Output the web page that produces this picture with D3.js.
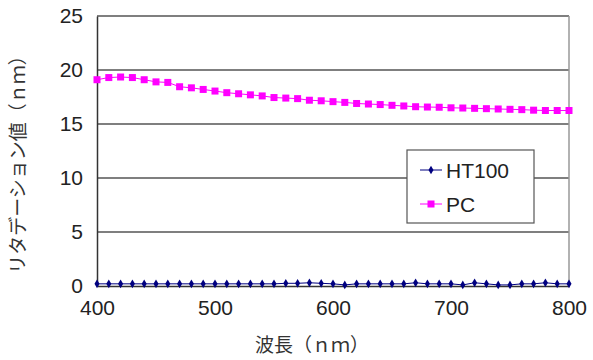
<!DOCTYPE html>
<html><head><meta charset="utf-8">
<script src="https://cdn.jsdelivr.net/npm/d3@7"></script>
<style>body{margin:0;background:#fff}svg{display:block}</style>
</head><body><svg id="c" width="593" height="360"></svg>
<script>
const wavelengths = d3.range(400, 801, 10);
const pcValues = [19.1,19.3,19.35,19.3,19.1,18.9,18.85,18.45,18.35,18.2,18.05,17.9,17.8,17.7,17.6,17.45,17.4,17.35,17.2,17.15,17.07,17.0,16.9,16.85,16.8,16.73,16.67,16.6,16.57,16.55,16.5,16.48,16.45,16.42,16.39,16.36,16.33,16.28,16.25,16.25,16.25];
const ht100Values = [0.2,0.2,0.2,0.2,0.2,0.2,0.2,0.2,0.2,0.2,0.2,0.2,0.2,0.2,0.2,0.2,0.25,0.25,0.3,0.25,0.2,0.1,0.2,0.2,0.2,0.2,0.2,0.3,0.2,0.2,0.2,0.1,0.3,0.2,0.1,0.1,0.2,0.2,0.3,0.2,0.2];
const seriesNames = ["HT100", "PC"];
const xTicks = [400, 500, 600, 700, 800];
const yTicks = [0, 5, 10, 15, 20, 25];

const svg = d3.select("#c");
const L = 97, R = 569, T = 16, B = 286;
const x = d3.scaleLinear().domain([400, 800]).range([L, R]);
const y = d3.scaleLinear().domain([0, 25]).range([B, T]);
const font = "'Liberation Sans', Arial, sans-serif";

// grid
svg.append("g").selectAll("line").data(yTicks.filter(d => d > 0)).join("line")
  .attr("x1", L).attr("x2", R).attr("y1", d => y(d)).attr("y2", d => y(d))
  .attr("stroke", "#555").attr("stroke-width", 1.5);
// right border
svg.append("line").attr("x1", R).attr("x2", R).attr("y1", T).attr("y2", B)
  .attr("stroke", "#999").attr("stroke-width", 1.5);

// axes
const yAxis = d3.axisLeft(y).tickValues(yTicks).tickSize(0).tickPadding(14).tickFormat(d3.format("d"));
const gy = svg.append("g").attr("transform", `translate(${L},0)`).call(yAxis);
gy.select(".domain").attr("stroke", "#333").attr("stroke-width", 1.5);
gy.selectAll("text").attr("font-family", font).attr("font-size", 21).attr("fill", "#222");

const xAxis = d3.axisBottom(x).tickValues(xTicks).tickSize(0).tickPadding(14).tickFormat(d3.format("d"));
const gx = svg.append("g").attr("transform", `translate(0,${B})`).call(xAxis);
gx.select(".domain").attr("stroke", "#333").attr("stroke-width", 1.5);
gx.selectAll("text").attr("font-family", font).attr("font-size", 21).attr("fill", "#222");

// series
const pcData = wavelengths.map((w, i) => [w, pcValues[i]]);
const htData = wavelengths.map((w, i) => [w, ht100Values[i]]);
const line = d3.line().x(d => x(d[0])).y(d => y(d[1]));

svg.append("path").datum(htData).attr("d", line).attr("fill", "none").attr("stroke", "#000080").attr("stroke-width", 1);
svg.append("g").selectAll("path").data(htData).join("path")
  .attr("d", d3.symbol(d3.symbolDiamond, 22)())
  .attr("transform", d => `translate(${x(d[0])},${y(d[1])})`).attr("fill", "#000080");

svg.append("path").datum(pcData).attr("d", line).attr("fill", "none").attr("stroke", "#ff00ff").attr("stroke-width", 1);
svg.append("g").selectAll("rect").data(pcData).join("rect")
  .attr("x", d => x(d[0]) - 3.5).attr("y", d => y(d[1]) - 3.5).attr("width", 7).attr("height", 7)
  .attr("fill", "#ff00ff");

// legend
const lg = svg.append("g");
lg.append("rect").attr("x", 407).attr("y", 150).attr("width", 127).attr("height", 73)
  .attr("fill", "#fff").attr("stroke", "#555").attr("stroke-width", 1.2);
const ly = [170, 204];
lg.append("line").attr("x1", 420).attr("x2", 442).attr("y1", ly[0]).attr("y2", ly[0]).attr("stroke", "#000080");
lg.append("path").attr("d", d3.symbol(d3.symbolDiamond, 22)()).attr("transform", `translate(431,${ly[0]})`).attr("fill", "#000080");
lg.append("line").attr("x1", 420).attr("x2", 442).attr("y1", ly[1]).attr("y2", ly[1]).attr("stroke", "#ff00ff");
lg.append("rect").attr("x", 427.5).attr("y", ly[1] - 3.5).attr("width", 7).attr("height", 7).attr("fill", "#ff00ff");
lg.selectAll("text").data(seriesNames).join("text")
  .attr("x", 446).attr("y", (d, i) => ly[i]).attr("dy", "0.36em")
  .attr("font-family", font).attr("font-size", 21).attr("fill", "#222").text(d => d);

// axis titles
svg.append("text").attr("x", 312).attr("y", 352).attr("text-anchor", "middle")
  .attr("font-family", "'Noto Sans CJK JP', sans-serif").attr("font-size", 19).attr("fill", "#333")
  .text("波長（ｎｍ）");
svg.append("text").attr("transform", "translate(25,160) rotate(-90)").attr("text-anchor", "middle")
  .attr("font-family", "'Noto Sans CJK JP', sans-serif").attr("font-size", 19).attr("fill", "#333")
  .text("リタデーション値（ｎｍ）");
</script></body></html>
